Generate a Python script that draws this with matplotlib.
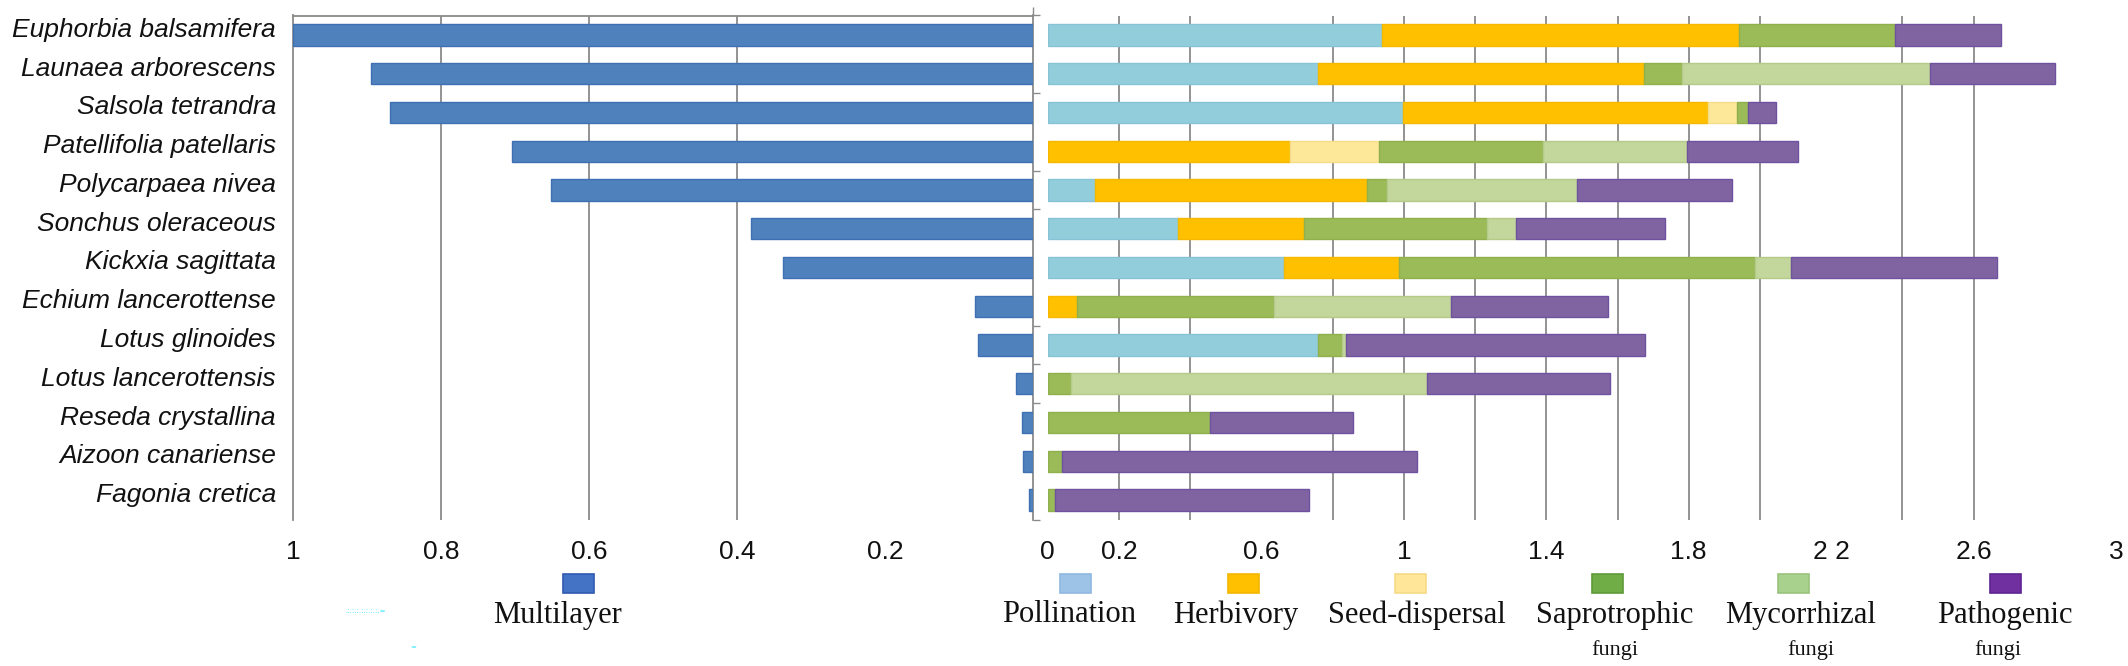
import matplotlib
matplotlib.use("Agg")
import matplotlib.pyplot as plt
import matplotlib.transforms as mtransforms
from matplotlib.patches import Rectangle
import numpy as np

# ---------------- data ----------------
species = ["Euphorbia balsamifera", "Launaea arborescens", "Salsola tetrandra",
           "Patellifolia patellaris", "Polycarpaea nivea", "Sonchus oleraceous",
           "Kickxia sagittata", "Echium lancerottense", "Lotus glinoides",
           "Lotus lancerottensis", "Reseda crystallina", "Aizoon canariense",
           "Fagonia cretica"]

multilayer = [1.0, 0.895, 0.869, 0.704, 0.651, 0.381, 0.338, 0.079, 0.075,
              0.023, 0.015, 0.013, 0.005]

pollination = [0.938, 0.759, 0.997, 0, 0.133, 0.366, 0.663, 0, 0.758, 0, 0, 0, 0]
herbivory = [1.002, 0.915, 0.856, 0.681, 0.764, 0.353, 0.322, 0.082, 0, 0, 0, 0, 0]
seed_dispersal = [0, 0, 0.083, 0.249, 0, 0, 0, 0, 0, 0, 0, 0, 0]
saprotrophic = [0.440, 0.106, 0.031, 0.462, 0.056, 0.514, 1.001, 0.553, 0.067,
                0.064, 0.456, 0.040, 0.020]
mycorrhizal = [0, 0.699, 0, 0.404, 0.534, 0.081, 0.101, 0.496, 0.012, 1.001, 0, 0, 0]
pathogenic = [0.296, 0.350, 0.079, 0.310, 0.434, 0.420, 0.578, 0.443, 0.840,
              0.513, 0.402, 0.997, 0.713]

right_series = [pollination, herbivory, seed_dispersal, saprotrophic, mycorrhizal, pathogenic]
right_names = ["Pollination", "Herbivory", "Seed-dispersal", "Saprotrophic", "Mycorrhizal", "Pathogenic"]
right_sub = ["", "", "", "fungi", "fungi", "fungi"]
bar_colors = ["#92CDDC", "#FFC000", "#FDE89A", "#9BBB59", "#C3D69B", "#8064A2"]
bar_edges = ["#86C3D4", "#F5B800", "#F5DC88", "#8FB04C", "#B5CB8A", "#6E52A0"]
legend_colors = ["#9DC3E6", "#FFC000", "#FFE699", "#70AD47", "#A9D18E", "#7030A0"]
legend_edges = ["#8FB8E0", "#F2B600", "#F5DA88", "#5E9A38", "#98C27C", "#5E2590"]

left_ticks = [1, 0.8, 0.6, 0.4, 0.2]
left_ticklabels = ["1", "0.8", "0.6", "0.4", "0.2"]
left_top_ticks = [1, 0.8, 0.6, 0.4, 0]
left_grid = [0.8, 0.6, 0.4]
right_ticks = [0, 0.2, 0.6, 1, 1.4, 1.8, 2.2, 2.6, 3]
right_ticklabels = ["0", "0.2", "0.6", "1", "1.4", "1.8", "2 2", "2.6", "3"]
right_grid = [0.2, 0.4, 0.8, 1.0, 1.2, 1.4, 1.6, 1.8, 2.0, 2.4, 2.6]
axis_ticks_at = [-0.5, 1.5, 3.5, 4.5, 7.5, 8.5, 9.5, 12.5]

# ---------------- layout ----------------
W, H = 2128, 666
fig = plt.figure(figsize=(W / 100, H / 100), dpi=100)
fig.patch.set_facecolor("white")


def fx(px):
    return px / W


def fy(py):
    return 1 - py / H


top_px, bot_px = 15.5, 519.5
axL = fig.add_axes([fx(293), fy(bot_px), (1033 - 293) / W, (bot_px - top_px) / H])
axR = fig.add_axes([fx(1047.8), fy(bot_px), (2116 - 1047.8) / W, (bot_px - top_px) / H])

gc = "#8A8A8A"
glw = 1.3
n = len(species)
y = np.arange(n)
bh = 0.55
tick_font = dict(family="Liberation Sans", size=19)

# ---- left panel ----
axL.barh(y, multilayer, height=bh, color="#4F81BD", edgecolor="#3F70B3", linewidth=1, zorder=3)
axL.set_xlim(1, 0)
axL.set_ylim(n - 0.5, -0.5)
for v in left_grid:
    axL.axvline(v, color=gc, lw=glw, zorder=1)
for s in ["top", "left", "right"]:
    axL.spines[s].set_color(gc)
    axL.spines[s].set_linewidth(glw)
axL.spines["bottom"].set_visible(False)
axL.set_xticks(left_ticks)
axL.set_xticklabels(left_ticklabels, fontdict=tick_font)
axL.tick_params(axis="x", which="major", top=False, bottom=False, labelbottom=True,
                labeltop=False, length=0, pad=15, labelcolor="#111111")
axL.set_xticks(left_top_ticks, minor=True)
axL.tick_params(axis="x", which="minor", top=True, bottom=False, labelbottom=False,
                length=6.5, width=glw * 0.75, color=gc, direction="out")
axL.set_yticks([])
axL.set_yticks(axis_ticks_at, minor=True)
axL.tick_params(axis="y", which="minor", left=False, right=True, length=5,
                width=glw * 0.75, color=gc, direction="out")

lab_tr = mtransforms.blended_transform_factory(axL.transAxes, axL.transData) + \
    mtransforms.ScaledTranslation(-17 / 100, -2 / 100, fig.dpi_scale_trans)
for i, name in enumerate(species):
    axL.text(0, i, name, transform=lab_tr, ha="right", va="baseline",
             family="Liberation Sans", style="italic", fontsize=19, color="#111111")

# ---- right panel ----
axR.set_xlim(0, 3)
axR.set_ylim(n - 0.5, -0.5)
for v in right_grid:
    axR.axvline(v, color=gc, lw=glw, zorder=1)
left_acc = np.zeros(n)
for vals, col, ec in zip(right_series, bar_colors, bar_edges):
    vals = np.array(vals, dtype=float)
    m = vals > 0
    axR.barh(y[m], vals[m], left=left_acc[m], height=bh, color=col,
             edgecolor=ec, linewidth=1, zorder=3)
    left_acc += vals
for s in axR.spines.values():
    s.set_visible(False)
axR.set_yticks([])
axR.set_xticks(right_ticks)
axR.set_xticklabels(right_ticklabels, fontdict=tick_font)
axR.tick_params(axis="x", length=0, pad=15, labelcolor="#111111")

# ---- legend ----
serif = "Liberation Serif"
mk_w, mk_h, mk_y = 31, 19, 583
fig.add_artist(Rectangle((fx(578 - mk_w / 2), fy(mk_y + mk_h / 2)), mk_w / W, mk_h / H,
                         transform=fig.transFigure, facecolor="#4472C4",
                         edgecolor="#2F5BB0", linewidth=1.2))
fig.text(fx(558), fy(622.5), "Multilayer", ha="center", va="baseline",
         family=serif, fontsize=22, color="#111111")

marker_x = [1075.5, 1243, 1410, 1607.5, 1793, 2005.5]
label_x = [1069, 1236, 1417, 1615, 1801, 2004.5]
sub_x = [None, None, None, 1614.5, 1811, 1998]
for name, sub, col, ec, mx, lx, sx in zip(right_names, right_sub, legend_colors,
                                          legend_edges, marker_x, label_x, sub_x):
    fig.add_artist(Rectangle((fx(mx - mk_w / 2), fy(mk_y + mk_h / 2)), mk_w / W, mk_h / H,
                             transform=fig.transFigure, facecolor=col,
                             edgecolor=ec, linewidth=1.2))
    fig.text(fx(lx), fy(622.5), name, ha="center", va="baseline",
             family=serif, fontsize=22, color="#111111")
    if sub:
        fig.text(fx(sx), fy(655), sub, ha="center", va="baseline",
                 family=serif, fontsize=16, color="#111111")

# faint cyan artefacts near the left legend
fig.text(fx(345), fy(613), ".:.:.:.:.:.:.:.=", ha="left", va="baseline",
         family="DejaVu Sans", fontsize=5, color="#33E6FF")
fig.text(fx(410), fy(649), "=", ha="left", va="baseline",
         family="DejaVu Sans", fontsize=5, color="#33E6FF")

fig.savefig("out.png", dpi=100, facecolor="white")
